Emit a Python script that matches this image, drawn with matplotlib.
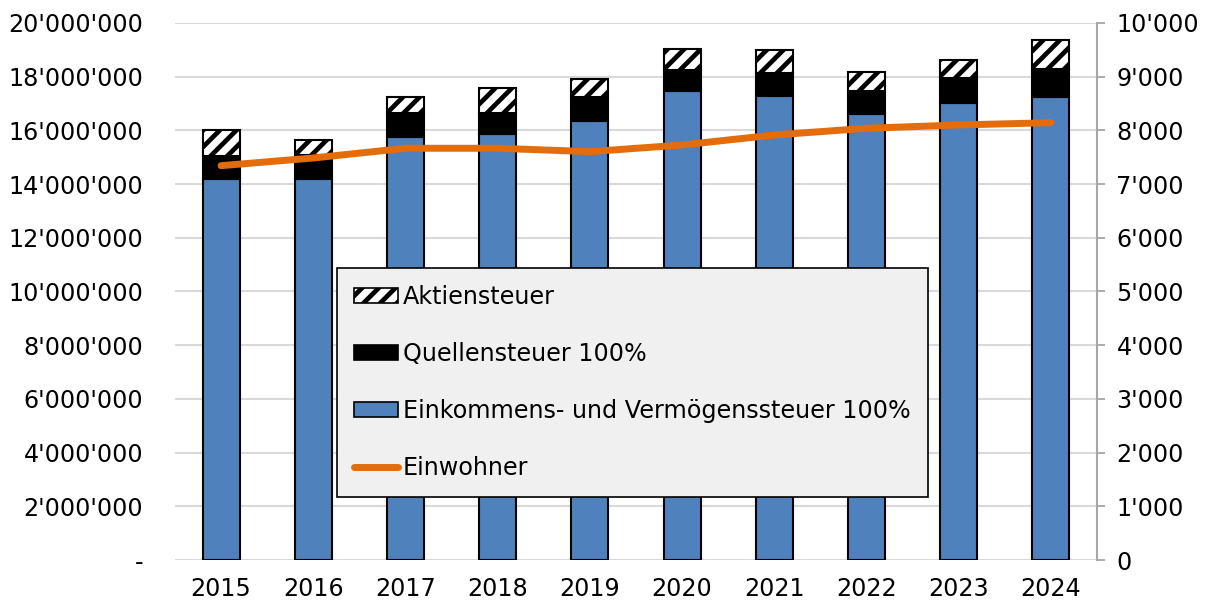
import matplotlib
matplotlib.use("Agg")
import matplotlib.pyplot as plt
from matplotlib.ticker import FuncFormatter, MultipleLocator
from matplotlib.patches import Patch
from matplotlib.lines import Line2D

# Werte
jahre = ["2015", "2016", "2017", "2018", "2019", "2020", "2021", "2022", "2023", "2024"]
einkommen = [14.20, 14.19, 15.77, 15.87, 16.36, 17.47, 17.28, 16.61, 17.01, 17.23]  # Mio
quellen = [0.85, 0.89, 0.89, 0.78, 0.87, 0.78, 0.85, 0.86, 0.93, 1.06]
aktien = [0.95, 0.56, 0.60, 0.92, 0.67, 0.78, 0.86, 0.69, 0.68, 1.08]
einwohner = [7343, 7486, 7667, 7667, 7604, 7728, 7914, 8039, 8101, 8143]

BLAU = "#4F81BD"
ORANGE = "#E46C0A"
GRID = "#D9D9D9"
FS = 17.2

plt.rcParams["font.family"] = ["DejaVu Sans"]
plt.rcParams["hatch.linewidth"] = 3.4

fig = plt.figure(figsize=(12.1, 6.03), dpi=100, facecolor="white")
ax = fig.add_axes([0.1446, 0.0713, 0.762, 0.8906])

x = list(range(len(jahre)))
ein = [v * 1e6 for v in einkommen]
que = [v * 1e6 for v in quellen]
akt = [v * 1e6 for v in aktien]
bot2 = [a + b for a, b in zip(ein, que)]

w = 0.4
ax.bar(x, ein, w, color=BLAU, edgecolor="black", lw=1.5, zorder=3)
ax.bar(x, que, w, bottom=ein, color="black", edgecolor="black", lw=1.5, zorder=3)
ax.bar(x, akt, w, bottom=bot2, color="white", edgecolor="black", hatch="//",
       lw=1.5, zorder=3)

ax.set_xlim(-0.5, 9.5)
ax.set_ylim(0, 20e6)
ax.yaxis.set_major_locator(MultipleLocator(2e6))


def fmt_left(v, _):
    if v == 0:
        return "-"
    return f"{int(round(v)):,}".replace(",", "'")


def fmt_right(v, _):
    return f"{int(round(v)):,}".replace(",", "'")


ax.yaxis.set_major_formatter(FuncFormatter(fmt_left))
ax.set_xticks(x)
ax.set_xticklabels(jahre)
ax.tick_params(axis="y", length=0, pad=23, labelsize=FS)
ax.tick_params(axis="x", length=0, pad=12, labelsize=FS)
ax.grid(axis="y", color=GRID, lw=1.5, zorder=0)
ax.set_axisbelow(True)
for s in ax.spines.values():
    s.set_visible(False)

ax2 = ax.twinx()
ax2.plot(x, einwohner, color=ORANGE, lw=5, solid_capstyle="round", zorder=5)
ax2.set_ylim(0, 10000)
ax2.yaxis.set_major_locator(MultipleLocator(1000))
ax2.yaxis.set_major_formatter(FuncFormatter(fmt_right))
ax2.tick_params(axis="y", length=6, width=1.3, color="#A6A6A6", pad=8, labelsize=FS)
for k, s in ax2.spines.items():
    s.set_visible(k == "right")
ax2.spines["right"].set_color("#A6A6A6")
ax2.spines["right"].set_linewidth(1.5)

handles = [
    Patch(facecolor="white", edgecolor="black", hatch="//", lw=1.2),
    Patch(facecolor="black", edgecolor="black", lw=1.2),
    Patch(facecolor=BLAU, edgecolor="black", lw=1.2),
    Line2D([], [], color=ORANGE, lw=5, solid_capstyle="round"),
]
labels = ["Aktiensteuer", "Quellensteuer 100%",
          "Einkommens- und Vermögenssteuer 100%", "Einwohner"]
leg = fig.legend(handles, labels, loc="upper left",
                 bbox_to_anchor=(337 / 1210, 1 - 268 / 603),
                 fontsize=FS, frameon=True, fancybox=False, edgecolor="black",
                 facecolor="#F0F0F0", framealpha=1, labelspacing=1.385,
                 handlelength=1.85, handleheight=0.6, handletextpad=0.2,
                 borderpad=0.71, borderaxespad=0)
leg.get_frame().set_linewidth(1.2)

fig.savefig("out.png", dpi=100, facecolor="white")
